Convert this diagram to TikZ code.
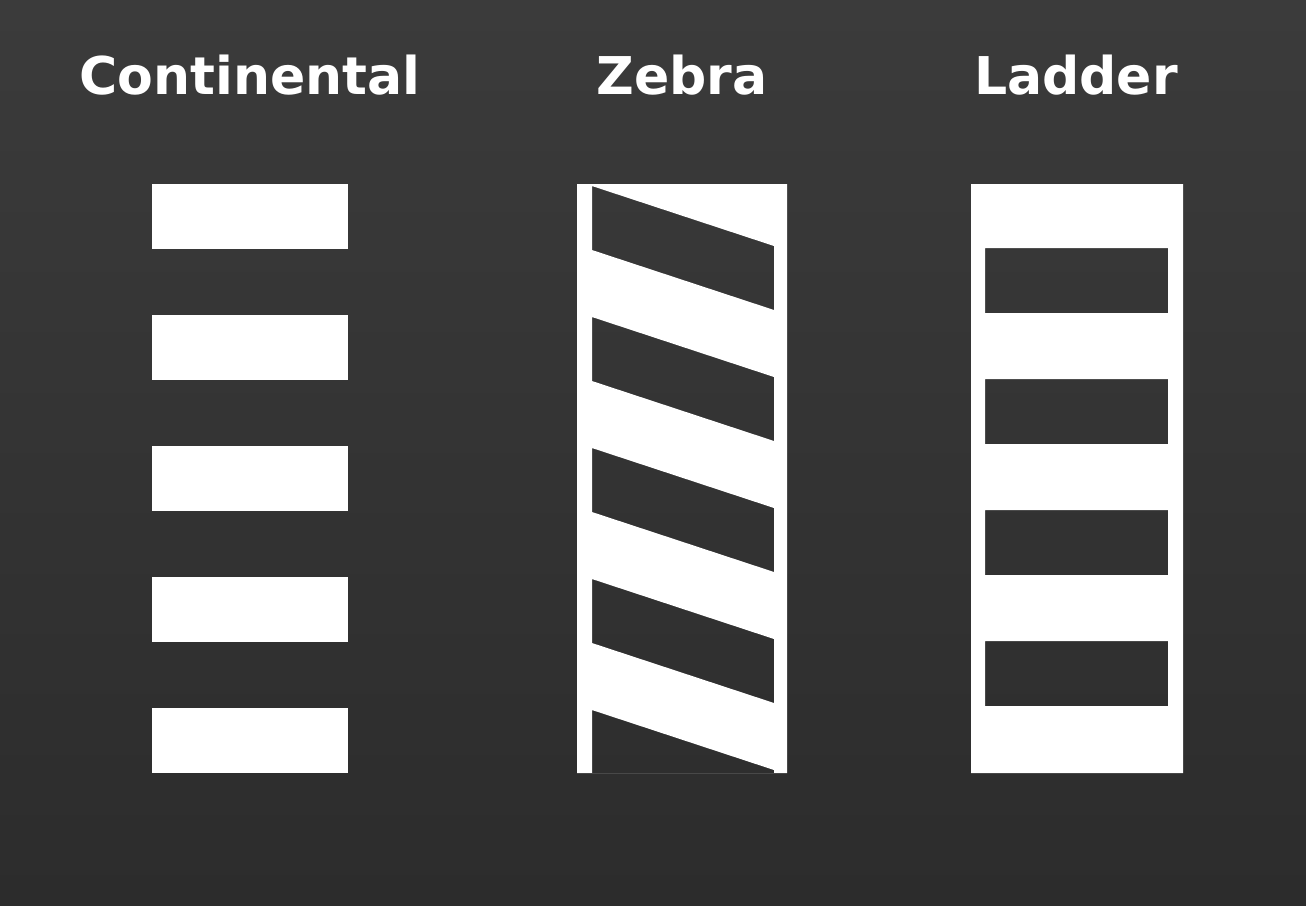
\documentclass[tikz,border=0pt]{standalone}
\usepackage{fontspec}
\setmainfont{DejaVu Sans}
\usetikzlibrary{positioning}
\definecolor{bgtop}{RGB}{59, 59, 59}
\definecolor{bgbot}{RGB}{44, 44, 44}
\definecolor{markwhite}{RGB}{255, 255, 255}
\tikzset{
  title/.style={text=markwhite, font=\fontsize{14.8pt}{16pt}\selectfont\bfseries, anchor=base, inner sep=0pt},
  paint/.style={fill=markwhite, draw=none}
}

\begin{document}
\begin{tikzpicture}[x=0.01cm, y=-0.01cm]
  % background
  \shade[top color=bgtop, bottom color=bgbot] (0,0) rectangle (1306,905);
  \useasboundingbox (0,0) rectangle (1306,905);

  % titles
  \node[title] (contlbl) at (250,94) {Continental};
  \node[title] (zebralbl) at (682,94) {Zebra};
  \node[title] (ladderlbl) at (1076,94) {Ladder};

  % continental: separate bars
  \foreach \i in {0,...,4}
    \fill[paint] (152,184+131*\i) rectangle (348,249+131*\i);

  % zebra: white band with slanted gaps
  \fill[paint, even odd rule] (577,184) rectangle (787,773)
    \foreach \i in {0,...,3} {
      (592,186+131*\i) -- (774,246+131*\i) -- (774,310+131*\i) -- (592,250+131*\i) -- cycle
    }
    (592,710) -- (774,770) -- (774,773) -- (592,773) -- cycle;

  % ladder: rails and rungs
  \fill[paint, even odd rule] (971,184) rectangle (1183,773)
    \foreach \i in {0,...,3} {
      (985,248+131*\i) rectangle (1168,313+131*\i)
    };
\end{tikzpicture}
\end{document}
